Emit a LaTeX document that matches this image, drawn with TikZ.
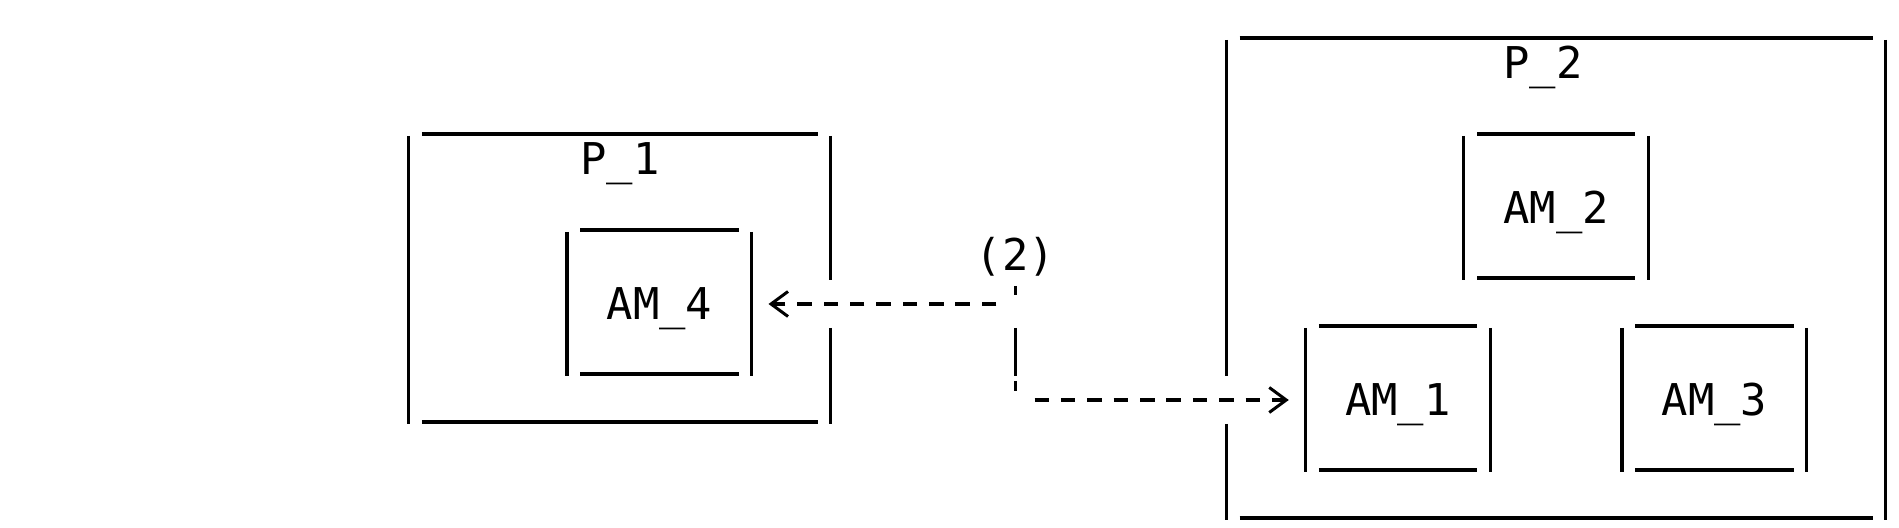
\documentclass[tikz,border=0pt]{standalone}
\usepackage{fontspec}
\setmonofont{DejaVu Sans Mono}
\usepackage{tikz}
\usetikzlibrary{arrows.meta}

\tikzset{
    frame/.style={line width=1.6pt},
    box/.style={rectangle, inner sep=0pt, outer sep=0pt,
        minimum width=92.3125pt, minimum height=72pt,
        text height=15.9pt, text depth=0pt,
        font=\ttfamily\fontsize{21.9}{24}\selectfont},
    txt/.style={inner sep=0pt, anchor=base,
        font=\ttfamily\fontsize{21.9}{24}\selectfont},
    link/.style={line width=2pt, dash pattern=on 7.25pt off 5.9375pt,
        dash phase=10.2pt, shorten >=8.4pt,
        -{Straight Barb[length=8.5pt,width=12.5pt,line width=1.5pt,sharp]}},
    riser/.style={line width=1.8pt,
        dash pattern=on 4.5pt off 16.5pt on 24pt off 2.5pt on 5pt off 20pt},
}

\newcommand\hbars[1]{%
    \draw[frame] ([xshift=6.59pt,yshift=1pt]#1.north west) -- ([xshift=-6.59pt,yshift=1pt]#1.north east);
    \draw[frame] ([xshift=6.59pt,yshift=1pt]#1.south west) -- ([xshift=-6.59pt,yshift=1pt]#1.south east);
}
\newcommand\asciibox[1]{%
    \hbars{#1}
    \draw[frame] (#1.north west) -- (#1.south west);
    \draw[frame] (#1.north east) -- (#1.south east);
}

\begin{document}
\begin{tikzpicture}[x=13.1875pt, y=-24pt]
    \useasboundingbox (0,0.1667) rectangle (72,11.1667);

    \node[box, minimum width=211pt, minimum height=144pt] (p1) at (23.5,6) {};
    \node[txt] (p1name) at (23.5,3.8) {P\_1};
    \hbars{p1}
    \draw[frame] (p1.north west) -- (p1.south west);
    \draw[frame] (p1.north east) -- (31.5,6) (31.5,7) -- (p1.south east);

    \node[box] (am4) at (25,6.5) {AM\_4};
    \asciibox{am4}

    \node[box, minimum width=329.6875pt, minimum height=240pt] (p2) at (59,6) {};
    \node[txt] (p2name) at (58.5,1.8) {P\_2};
    \hbars{p2}
    \draw[frame] (p2.north west) -- (46.5,8) (46.5,9) -- (p2.south west);
    \draw[frame] (p2.north east) -- (p2.south east);

    \node[box] (am2) at (59,4.5) {AM\_2};
    \asciibox{am2}

    \node[box] (am1) at (53,8.5) {AM\_1};
    \asciibox{am1}

    \node[box] (am3) at (65,8.5) {AM\_3};
    \asciibox{am3}

    \coordinate (bendA) at (38,6.5);
    \coordinate (bendB) at (39,8.5);
    \coordinate (riseTop) at (38.5,6.125);
    \coordinate (riseBot) at (38.5,8.33);
    \node[txt] (tag) at (38.5,5.8) {(2)};

    \draw[link] (bendA) -- (am4.east);
    \draw[riser] (riseTop) -- (riseBot);
    \draw[link] (bendB) -- (am1.west);
\end{tikzpicture}
\end{document}
